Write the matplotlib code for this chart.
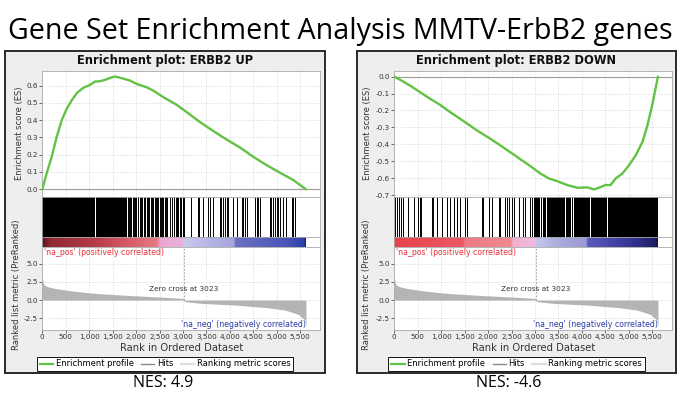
import numpy as np
import matplotlib
matplotlib.use("Agg")
import matplotlib.pyplot as plt
from matplotlib.patches import Rectangle
from matplotlib.colors import LinearSegmentedColormap
from matplotlib.lines import Line2D
from matplotlib.ticker import FuncFormatter

# ---------------- data ----------------
main_title = "Gene Set Enrichment Analysis MMTV-ErbB2 genes"
panel_titles = ["Enrichment plot: ERBB2 UP", "Enrichment plot: ERBB2 DOWN"]
nes_labels = ["NES: 4.9", "NES: -4.6"]
n_genes = 5620
zero_cross = 3023

# running enrichment score, UP set
es_up_rank = [0, 93, 200, 307, 413, 520, 626, 733, 874, 1016, 1123, 1229, 1336, 1442, 1549,
              1620, 1727, 1868, 2011, 2224, 2366, 2579, 2863, 3076, 3360, 3643, 3928, 4212,
              4496, 4780, 5064, 5348, 5620]
es_up_val = [0.0, 0.092, 0.188, 0.303, 0.399, 0.466, 0.514, 0.556, 0.587, 0.604, 0.623, 0.625,
             0.633, 0.644, 0.652, 0.648, 0.640, 0.629, 0.610, 0.590, 0.571, 0.533, 0.489, 0.447,
             0.389, 0.337, 0.288, 0.242, 0.188, 0.140, 0.096, 0.054, 0.0]

# running enrichment score, DOWN set
es_down_rank = [0, 158, 336, 549, 763, 977, 1191, 1476, 1762, 2046, 2331, 2617, 2901, 3115,
                3293, 3472, 3686, 3900, 4114, 4255, 4362, 4505, 4612, 4719, 4862, 5004, 5147,
                5290, 5397, 5504, 5620]
es_down_val = [0.0, -0.024, -0.053, -0.092, -0.131, -0.167, -0.210, -0.263, -0.318, -0.367,
               -0.420, -0.475, -0.529, -0.573, -0.602, -0.618, -0.641, -0.657, -0.655, -0.667,
               -0.657, -0.641, -0.641, -0.602, -0.573, -0.524, -0.465, -0.386, -0.288, -0.161, 0.0]

# hits (gene set members in the ranked list)
hit_blocks_up_start = [0, 1150]
hit_blocks_up_end = [1125, 1800]
hits_up = [1820, 1840, 1870, 1900, 1930, 1950, 1975, 2000, 2030, 2080, 2100, 2120, 2160, 2200,
           2230, 2260, 2280, 2310, 2340, 2370, 2400, 2420, 2450, 2470, 2500, 2530, 2560, 2580,
           2610, 2640, 2660, 2720, 2760, 2800, 2840, 2870, 2900, 2930, 2960, 2990, 3010, 3030,
           3180, 3310, 3330, 3430, 3540, 3575, 3630, 3780, 3820, 3845, 3890, 3930, 3965, 4070,
           4140, 4250, 4270, 4320, 4370, 4530, 4570, 4600, 4640, 4850, 4885, 4925, 4960, 4995,
           5030, 5065, 5135, 5205, 5315, 5350, 5385]

hit_blocks_down_start = [3000, 3125, 3175, 3245, 3660, 3780, 3825, 4195, 4550]
hit_blocks_down_end = [3105, 3155, 3225, 3640, 3760, 3805, 4175, 4530, 5620]
hits_down = [15, 50, 90, 140, 195, 300, 410, 515, 540, 565, 800, 835, 905, 1015, 1120, 1190,
             1265, 1335, 1405, 1515, 1550, 1870, 1900, 2010, 2085, 2225, 2260, 2370, 2405, 2440,
             2510, 2545, 2650, 2745, 2790, 2900, 2940, 2970]

# ranked list metric (same list for both panels)
metric_rank = [0, 15, 40, 100, 271, 555, 910, 1265, 1975, 2685, 3005, 3023, 3024, 3395, 4105,
               4815, 5170, 5454, 5597, 5620]
metric_val = [3.2, 2.5, 2.1, 1.85, 1.6, 1.32, 1.05, 0.86, 0.59, 0.36, 0.23, 0.22, -0.2, -0.45,
              -0.68, -1.05, -1.36, -1.95, -2.73, -3.7]

x_ticks = [0, 500, 1000, 1500, 2000, 2500, 3000, 3500, 4000, 4500, 5000, 5500]
es_ticks_up = [0.0, 0.1, 0.2, 0.3, 0.4, 0.5, 0.6]
es_ticks_down = [0.0, -0.1, -0.2, -0.3, -0.4, -0.5, -0.6, -0.7]
metric_ticks = [5.0, 2.5, 0.0, -2.5]

# colour bar stops (rank, colour)
cbar_up_rank = [0, 160, 1160, 1800, 2440, 2520, 3000, 3020, 3570, 4100, 4120, 5200, 5600, 5620]
cbar_up_col = ['#5e161c', '#8e2a34', '#b83c4a', '#d65a66', '#e47a84', '#eaa6d2', '#e8b2da',
               '#cacaee', '#b6b6e4', '#a4a4de', '#6a70c4', '#4c56b8', '#2a40a8', '#1c2472']
cbar_down_rank = [0, 1470, 1500, 2500, 2520, 3000, 3020, 3540, 4100, 4130, 4680, 5250, 5600, 5620]
cbar_down_col = ['#e6424c', '#ea5a64', '#ee7a84', '#f08890', '#f2b0d2', '#f0bcdc', '#c6c6ec',
                 '#aaaadc', '#9a9ad4', '#5a5cba', '#4444a8', '#2c2c86', '#1c1c5a', '#141440']

# ---------------- layout ----------------
W, H = 677, 394
fig = plt.figure(figsize=(W / 100, H / 100), dpi=100)
fig.patch.set_facecolor('white')


def fbox(x0, y0, x1, y1):
    return [x0 / W, 1 - y1 / H, (x1 - x0) / W, (y1 - y0) / H]


fig.text(340.5 / W, 1 - 39 / H, main_title, ha='center', va='baseline',
         fontsize=20.6, family='Open Sans', color='black')

panels = [
    dict(box=(5, 51, 325, 373), ax_x=(42.3, 320), es_rank=es_up_rank, es_val=es_up_val,
         es_ylim=(-0.043, 0.686), es_ticks=es_ticks_up, bl_s=hit_blocks_up_start,
         bl_e=hit_blocks_up_end, hits=hits_up, cr=cbar_up_rank, cc=cbar_up_col,
         title=panel_titles[0], nes=nes_labels[0], nes_x=163, es_lab_x=19.5, m_lab_x=16.5),
    dict(box=(357, 51, 676, 373), ax_x=(394.3, 672), es_rank=es_down_rank, es_val=es_down_val,
         es_ylim=(-0.71, 0.035), es_ticks=es_ticks_down, bl_s=hit_blocks_down_start,
         bl_e=hit_blocks_down_end, hits=hits_down, cr=cbar_down_rank, cc=cbar_down_col,
         title=panel_titles[1], nes=nes_labels[1], nes_x=509, es_lab_x=367.5, m_lab_x=367),
]

XMAX = 5920
spine_col = '#a8a8a8'
grid_kw = dict(color='#d4d4d4', lw=0.5, linestyle=(0, (2, 2)))
tick_col = '#333333'
green = '#62c244'

for p in panels:
    bx0, by0, bx1, by1 = p['box']
    fig.patches.append(Rectangle((bx0 / W, 1 - by1 / H), (bx1 - bx0) / W, (by1 - by0) / H,
                                 transform=fig.transFigure, facecolor='#eeeeee',
                                 edgecolor='#2a2a2a', lw=1.4, zorder=-5))
    cx = (bx0 + bx1) / 2
    fig.text(cx / W, 1 - 60.5 / H, p['title'], ha='center', va='center', fontsize=8.3,
             fontweight='bold', color='#111111')
    ax0, ax1 = p['ax_x']

    # --- ES axis ---
    ax_es = fig.add_axes(fbox(ax0, 70.7, ax1, 196.7))
    ax_es.set_zorder(2)
    ax_es.plot(p['es_rank'], p['es_val'], color=green, lw=1.7, zorder=3, solid_capstyle='round')
    ax_es.axhline(0, color='#9a9a9a', lw=0.8, zorder=2)
    ax_es.set_xlim(0, XMAX)
    ax_es.set_ylim(*p['es_ylim'])
    ax_es.set_yticks(p['es_ticks'])
    ax_es.yaxis.set_major_formatter(FuncFormatter(lambda v, _: f"{v:.1f}"))
    ax_es.set_xticks(x_ticks)
    ax_es.tick_params(axis='x', length=0, labelbottom=False)
    ax_es.tick_params(axis='y', labelsize=5.2, colors=tick_col, length=2, width=0.5, pad=1.2)
    ax_es.grid(True, **grid_kw)
    for s in ax_es.spines.values():
        s.set_color(spine_col)
        s.set_linewidth(0.6)
    fig.text(p['es_lab_x'] / W, 1 - 133 / H, "Enrichment score (ES)", rotation=90,
             ha='center', va='center', fontsize=6.0, color=tick_col)

    # --- hits axis ---
    ax_h = fig.add_axes(fbox(ax0, 196.7, ax1, 236.5))
    ax_h.set_zorder(2)
    ax_h.broken_barh([(s, e - s) for s, e in zip(p['bl_s'], p['bl_e'])], (0, 1),
                     facecolors='black', lw=0)
    ax_h.vlines(p['hits'], 0, 1, color='black', lw=0.7)
    ax_h.set_xlim(0, XMAX)
    ax_h.set_ylim(0, 1)
    ax_h.set_xticks([])
    ax_h.set_yticks([])
    for s in ax_h.spines.values():
        s.set_color(spine_col)
        s.set_linewidth(0.6)

    # --- colour bar axis ---
    ax_c = fig.add_axes(fbox(ax0, 236.5, ax1, 247.3))
    ax_c.set_zorder(2)
    pos = [r / n_genes for r in p['cr']]
    cmap = LinearSegmentedColormap.from_list('gsea', list(zip(pos, p['cc'])))
    ax_c.imshow(np.linspace(0, 1, 600)[None, :], extent=(0, n_genes, 0, 1), aspect='auto',
                cmap=cmap, interpolation='bilinear')
    ax_c.set_xlim(0, XMAX)
    ax_c.set_ylim(0, 1)
    ax_c.set_xticks([])
    ax_c.set_yticks([])
    for s in ax_c.spines.values():
        s.set_color(spine_col)
        s.set_linewidth(0.6)

    # --- ranked metric axis ---
    ax_m = fig.add_axes(fbox(ax0, 247.3, ax1, 330))
    ax_m.set_zorder(2)
    ax_m.fill_between(metric_rank, metric_val, 0, color='#b4b4b4', lw=0, zorder=2)
    ax_m.set_xlim(0, XMAX)
    ax_m.set_ylim(-4.1, 7.24)
    ax_m.set_yticks(metric_ticks)
    ax_m.yaxis.set_major_formatter(FuncFormatter(lambda v, _: f"{v:.1f}"))
    ax_m.set_xticks(x_ticks)
    ax_m.xaxis.set_major_formatter(FuncFormatter(lambda v, _: f"{int(v):,}"))
    ax_m.tick_params(labelsize=5.2, colors=tick_col, length=2, width=0.5, pad=1.2)
    ax_m.grid(True, **grid_kw)
    ax_m.axvline(zero_cross, ymin=(0 + 4.1) / (7.24 + 4.1), ymax=1, color='#9a9a9a', lw=0.6,
                 linestyle=(0, (2, 2)), zorder=3)
    ax_m.text(zero_cross, 1.5, "Zero cross at 3023", ha='center', va='center', fontsize=5.3,
              color='#333333')
    ax_m.text(40, 6.55, "'na_pos' (positively correlated)", ha='left', va='center',
              fontsize=5.6, color='#e8303a')
    ax_m.text(2950, -3.4, "'na_neg' (negatively correlated)", ha='left', va='center',
              fontsize=5.6, color='#2a3aa8')
    for s in ax_m.spines.values():
        s.set_color(spine_col)
        s.set_linewidth(0.6)
    ax_m.set_xlabel("Rank in Ordered Dataset", fontsize=7.2, color=tick_col, labelpad=2)
    fig.text(p['m_lab_x'] / W, 1 - 285 / H, "Ranked list metric (PreRanked)", rotation=90,
             ha='center', va='center', fontsize=6.0, color=tick_col)

    # --- legend ---
    handles = [Line2D([], [], color=green, lw=1.6),
               Line2D([], [], color='#8a8a8a', lw=1.0),
               Line2D([], [], color='#dddddd', lw=1.6)]
    labels = ["Enrichment profile", "Hits", "Ranking metric scores"]
    leg = fig.legend(handles, labels, loc='center', bbox_to_anchor=(cx / W, 1 - 364 / H),
                     ncol=3, fontsize=6, frameon=True, fancybox=False, framealpha=1,
                     edgecolor='#111111', handlelength=1.6, handletextpad=0.3,
                     columnspacing=0.9, borderpad=0.35, borderaxespad=0)
    leg.get_frame().set_linewidth(0.7)

    fig.text(p['nes_x'] / W, 1 - 383 / H, p['nes'], ha='center', va='center',
             fontsize=11.5, family='Open Sans', color='black')

fig.savefig("out.png", dpi=100)
